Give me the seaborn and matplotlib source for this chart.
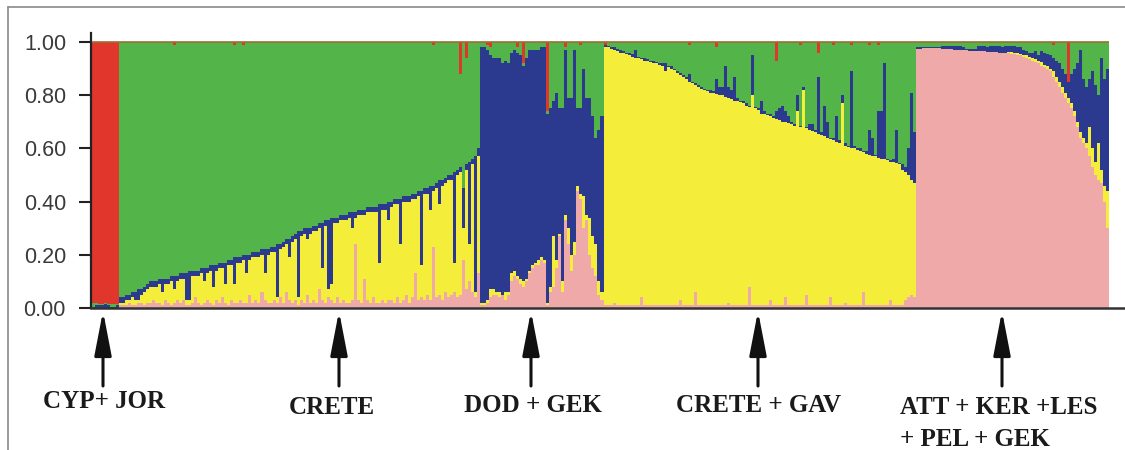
import numpy as np
import pandas as pd
import matplotlib
matplotlib.use("Agg")
import matplotlib.pyplot as plt
import seaborn as sns

# ---------------- data (per individual) ----------------
# cumulative boundaries from bottom: pink | yellow | blue | green | red(top)
# *_pink = pink share, *_yellow_top / *_blue_top = cumulative tops, *_red = red share at top

cyp_pink = [0.0, 0.0, 0.0, 0.0, 0.0, 0.0, 0.0, 0.0, 0.0]
cyp_yellow_top = [0.0, 0.0, 0.0, 0.0, 0.0, 0.0, 0.0, 0.0, 0.0]
cyp_blue_top = [0.005, 0.01, 0.01, 0.01, 0.015, 0.01, 0.005, 0.005, 0.01]
cyp_red = [0.98, 0.98, 0.985, 0.985, 0.98, 0.985, 0.985, 0.985, 0.985]

crete_blue_top = [
    0.04, 0.04, 0.05, 0.05, 0.06, 0.06, 0.07, 0.07, 0.08, 0.09,
    0.10, 0.10, 0.10, 0.11, 0.11, 0.11, 0.11, 0.12, 0.12, 0.12,
    0.13, 0.13, 0.13, 0.14, 0.14, 0.14, 0.14, 0.15, 0.15, 0.15,
    0.16, 0.16, 0.16, 0.17, 0.17, 0.17, 0.18, 0.18, 0.19, 0.19,
    0.19, 0.20, 0.20, 0.20, 0.21, 0.21, 0.21, 0.22, 0.22, 0.22,
    0.23, 0.23, 0.24, 0.24, 0.25, 0.26, 0.26, 0.27, 0.28, 0.29,
    0.29, 0.30, 0.30, 0.30, 0.31, 0.31, 0.32, 0.32, 0.33, 0.33,
    0.34, 0.34, 0.34, 0.35, 0.35, 0.35, 0.36, 0.36, 0.36, 0.37,
    0.37, 0.37, 0.38, 0.38, 0.38, 0.38, 0.39, 0.39, 0.39, 0.40,
    0.40, 0.41, 0.41, 0.41, 0.42, 0.42, 0.42, 0.43, 0.43, 0.44,
    0.44, 0.45, 0.45, 0.46, 0.46, 0.47, 0.48, 0.48, 0.49, 0.50,
    0.50, 0.51, 0.52, 0.53, 0.45, 0.54, 0.55, 0.56, 0.57, 0.60]
crete_yellow_top = [
    0.02, 0.02, 0.03, 0.03, 0.04, 0.03, 0.03, 0.05, 0.06, 0.07,
    0.08, 0.08, 0.08, 0.09, 0.06, 0.09, 0.09, 0.10, 0.07, 0.10,
    0.11, 0.11, 0.03, 0.03, 0.12, 0.12, 0.12, 0.13, 0.10, 0.13,
    0.14, 0.08, 0.14, 0.15, 0.15, 0.09, 0.16, 0.16, 0.09, 0.17,
    0.17, 0.18, 0.13, 0.18, 0.19, 0.19, 0.19, 0.20, 0.13, 0.20,
    0.21, 0.21, 0.04, 0.22, 0.23, 0.24, 0.19, 0.25, 0.26, 0.04,
    0.27, 0.28, 0.26, 0.28, 0.29, 0.29, 0.30, 0.15, 0.31, 0.07,
    0.09, 0.32, 0.32, 0.33, 0.33, 0.33, 0.34, 0.30, 0.34, 0.35,
    0.35, 0.35, 0.36, 0.36, 0.36, 0.36, 0.17, 0.37, 0.37, 0.33,
    0.38, 0.39, 0.39, 0.24, 0.40, 0.40, 0.40, 0.41, 0.41, 0.42,
    0.16, 0.43, 0.43, 0.37, 0.44, 0.45, 0.39, 0.46, 0.47, 0.48,
    0.48, 0.17, 0.50, 0.51, 0.30, 0.52, 0.24, 0.54, 0.06, 0.57]
crete_pink = [
    0.01, 0.01, 0.01, 0.02, 0.01, 0.01, 0.02, 0.02, 0.01, 0.02,
    0.02, 0.03, 0.02, 0.02, 0.01, 0.03, 0.02, 0.01, 0.02, 0.03,
    0.02, 0.03, 0.01, 0.01, 0.02, 0.04, 0.02, 0.01, 0.02, 0.03,
    0.02, 0.01, 0.03, 0.02, 0.04, 0.02, 0.01, 0.03, 0.02, 0.02,
    0.03, 0.02, 0.02, 0.05, 0.02, 0.03, 0.02, 0.06, 0.03, 0.02,
    0.02, 0.03, 0.02, 0.04, 0.02, 0.06, 0.03, 0.02, 0.03, 0.01,
    0.03, 0.02, 0.05, 0.02, 0.03, 0.02, 0.07, 0.03, 0.02, 0.04,
    0.03, 0.02, 0.04, 0.02, 0.03, 0.02, 0.02, 0.03, 0.24, 0.03,
    0.02, 0.11, 0.03, 0.02, 0.04, 0.02, 0.02, 0.03, 0.02, 0.03,
    0.03, 0.02, 0.04, 0.02, 0.03, 0.05, 0.02, 0.04, 0.13, 0.03,
    0.04, 0.03, 0.05, 0.03, 0.23, 0.04, 0.05, 0.03, 0.06, 0.04,
    0.05, 0.06, 0.04, 0.05, 0.18, 0.07, 0.10, 0.06, 0.04, 0.13]
crete_red = [
    0, 0, 0, 0, 0, 0, 0, 0, 0, 0,
    0, 0, 0, 0, 0, 0, 0, 0, 0.01, 0,
    0, 0, 0, 0, 0, 0, 0, 0, 0, 0,
    0, 0, 0, 0, 0, 0, 0, 0, 0.01, 0,
    0, 0.01, 0, 0, 0, 0, 0, 0, 0, 0,
    0, 0, 0, 0, 0, 0, 0, 0, 0, 0,
    0, 0, 0, 0, 0, 0, 0, 0, 0, 0,
    0, 0, 0, 0, 0, 0, 0, 0, 0, 0,
    0, 0, 0, 0, 0, 0, 0, 0, 0, 0,
    0, 0, 0, 0, 0, 0, 0, 0, 0, 0,
    0, 0, 0, 0, 0.01, 0, 0, 0, 0, 0,
    0, 0, 0, 0.12, 0, 0.06, 0, 0, 0, 0]

dod_blue_top = [
    0.98, 0.98, 0.97, 0.95, 0.94, 0.94, 0.94, 0.92, 0.93, 0.92,
    0.96, 0.97, 0.96, 0.95, 0.91, 0.94, 0.97, 0.97, 0.97, 0.97,
    0.98, 0.98, 0.73, 0.75, 0.78, 0.81, 0.75, 0.75, 0.97, 0.79,
    0.79, 0.97, 0.75, 0.75, 0.90, 0.79, 0.79, 0.72, 0.64, 0.67, 0.72]
dod_yellow_top = [
    0.02, 0.02, 0.03, 0.07, 0.07, 0.06, 0.06, 0.05, 0.06, 0.06,
    0.13, 0.14, 0.12, 0.11, 0.10, 0.11, 0.14, 0.16, 0.17, 0.18,
    0.19, 0.18, 0.02, 0.08, 0.27, 0.18, 0.28, 0.10, 0.35, 0.30,
    0.20, 0.25, 0.46, 0.43, 0.42, 0.35, 0.34, 0.27, 0.24, 0.10, 0.06]
dod_pink = [
    0.01, 0.01, 0.02, 0.04, 0.05, 0.05, 0.04, 0.05, 0.03, 0.05,
    0.10, 0.12, 0.11, 0.09, 0.08, 0.10, 0.13, 0.15, 0.16, 0.16,
    0.18, 0.17, 0.01, 0.06, 0.08, 0.15, 0.27, 0.06, 0.33, 0.24,
    0.14, 0.20, 0.44, 0.41, 0.30, 0.33, 0.20, 0.15, 0.12, 0.05, 0.03]
dod_red = [
    0, 0, 0.01, 0.02, 0, 0, 0, 0, 0, 0,
    0, 0, 0.02, 0, 0.08, 0, 0, 0, 0, 0,
    0, 0, 0.26, 0, 0, 0, 0, 0, 0.02, 0,
    0, 0, 0, 0.01, 0, 0, 0, 0, 0, 0, 0]

cgav_yellow_top = [
    0.98, 0.98, 0.975, 0.97, 0.965, 0.96, 0.96, 0.955, 0.95, 0.945,
    0.94, 0.94, 0.935, 0.93, 0.93, 0.925, 0.92, 0.92, 0.915, 0.91,
    0.89, 0.905, 0.90, 0.895, 0.885, 0.875, 0.87, 0.86, 0.85, 0.845,
    0.84, 0.83, 0.825, 0.82, 0.815, 0.81, 0.81, 0.805, 0.80, 0.80,
    0.795, 0.79, 0.785, 0.78, 0.78, 0.775, 0.77, 0.76, 0.755, 0.80,
    0.75, 0.745, 0.73, 0.73, 0.725, 0.72, 0.715, 0.71, 0.705, 0.70,
    0.70, 0.695, 0.69, 0.685, 0.74, 0.68, 0.82, 0.675, 0.67, 0.665,
    0.66, 0.655, 0.65, 0.645, 0.64, 0.635, 0.63, 0.625, 0.62, 0.77,
    0.61, 0.605, 0.60, 0.60, 0.595, 0.59, 0.585, 0.58, 0.575, 0.57,
    0.57, 0.565, 0.56, 0.56, 0.555, 0.55, 0.55, 0.545, 0.54, 0.52,
    0.51, 0.50, 0.48, 0.47]
cgav_blue_top = [
    0.99, 0.985, 0.98, 0.98, 0.975, 0.97, 0.965, 0.96, 0.96, 0.955,
    0.97, 0.945, 0.94, 0.94, 0.935, 0.93, 0.93, 0.925, 0.92, 0.92,
    0.92, 0.91, 0.91, 0.90, 0.89, 0.885, 0.875, 0.87, 0.88, 0.85,
    0.845, 0.84, 0.83, 0.825, 0.82, 0.82, 0.815, 0.86, 0.83, 0.83,
    0.91, 0.83, 0.82, 0.87, 0.79, 0.78, 0.78, 0.77, 0.76, 0.95,
    0.755, 0.75, 0.78, 0.74, 0.73, 0.73, 0.72, 0.74, 0.75, 0.76,
    0.74, 0.72, 0.70, 0.69, 0.80, 0.685, 0.83, 0.68, 0.69, 0.69,
    0.67, 0.87, 0.66, 0.76, 0.70, 0.64, 0.64, 0.72, 0.63, 0.80,
    0.62, 0.61, 0.89, 0.61, 0.60, 0.60, 0.59, 0.59, 0.67, 0.64,
    0.575, 0.74, 0.74, 0.92, 0.56, 0.555, 0.56, 0.67, 0.545, 0.54,
    0.53, 0.60, 0.81, 0.66]
cgav_pink = [
    0.01, 0.01, 0.01, 0.02, 0.01, 0.01, 0.01, 0.01, 0.01, 0.01,
    0.01, 0.01, 0.04, 0.01, 0.01, 0.01, 0.01, 0.01, 0.01, 0.01,
    0.01, 0.01, 0.01, 0.01, 0.01, 0.03, 0.01, 0.01, 0.01, 0.01,
    0.06, 0.01, 0.01, 0.01, 0.01, 0.01, 0.01, 0.01, 0.01, 0.01,
    0.01, 0.02, 0.01, 0.01, 0.01, 0.01, 0.01, 0.01, 0.08, 0.01,
    0.01, 0.01, 0.01, 0.01, 0.01, 0.03, 0.01, 0.01, 0.01, 0.01,
    0.04, 0.01, 0.01, 0.01, 0.01, 0.01, 0.01, 0.05, 0.01, 0.01,
    0.01, 0.01, 0.01, 0.01, 0.01, 0.04, 0.01, 0.01, 0.01, 0.01,
    0.02, 0.01, 0.01, 0.01, 0.01, 0.01, 0.06, 0.01, 0.01, 0.01,
    0.01, 0.01, 0.01, 0.01, 0.01, 0.03, 0.01, 0.01, 0.01, 0.01,
    0.03, 0.04, 0.05, 0.04]
cgav_red = [
    0.01, 0, 0, 0, 0, 0, 0, 0, 0, 0,
    0, 0, 0, 0, 0, 0, 0, 0, 0, 0,
    0, 0, 0, 0, 0, 0, 0, 0, 0.01, 0,
    0, 0, 0, 0, 0, 0, 0, 0.02, 0, 0,
    0, 0, 0, 0, 0, 0, 0, 0, 0, 0,
    0, 0, 0, 0, 0, 0, 0, 0.07, 0, 0,
    0, 0, 0, 0, 0, 0.01, 0, 0, 0, 0,
    0, 0.04, 0, 0, 0, 0, 0.01, 0, 0, 0,
    0, 0, 0.01, 0, 0, 0, 0, 0, 0.01, 0,
    0, 0.01, 0, 0, 0, 0, 0, 0, 0, 0,
    0, 0, 0, 0]

att_pink = [
    0.975, 0.975, 0.978, 0.978, 0.977, 0.977, 0.976, 0.976, 0.975, 0.975,
    0.972, 0.972, 0.971, 0.970, 0.970, 0.970, 0.969, 0.968, 0.968, 0.967,
    0.966, 0.966, 0.965, 0.964, 0.963, 0.963, 0.962, 0.960, 0.960, 0.958,
    0.957, 0.956, 0.955, 0.953, 0.950,
    0.945, 0.94, 0.935, 0.93, 0.925, 0.92, 0.91, 0.905, 0.90,
    0.89, 0.87, 0.85, 0.83, 0.81, 0.79,
    0.77, 0.75, 0.72, 0.68, 0.64, 0.62, 0.60, 0.57, 0.53, 0.50, 0.48, 0.47, 0.40, 0.30]
att_yellow_top = [
    0.975, 0.975, 0.978, 0.978, 0.977, 0.977, 0.976, 0.976, 0.975, 0.975,
    0.972, 0.972, 0.971, 0.970, 0.970, 0.970, 0.969, 0.968, 0.968, 0.967,
    0.966, 0.966, 0.965, 0.964, 0.963, 0.963, 0.962, 0.960, 0.960, 0.958,
    0.962, 0.961, 0.960, 0.958, 0.955,
    0.95, 0.95, 0.945, 0.94, 0.935, 0.93, 0.925, 0.915, 0.91,
    0.90, 0.89, 0.87, 0.85, 0.83, 0.81,
    0.79, 0.77, 0.74, 0.70, 0.66, 0.64, 0.62, 0.68, 0.60, 0.55, 0.62, 0.52, 0.46, 0.44]
att_blue_top = [
    0.98, 0.98, 0.982, 0.983, 0.982, 0.98, 0.98, 0.981, 0.985, 0.985,
    0.985, 0.985, 0.985, 0.985, 0.985, 0.98, 0.975, 0.975, 0.975, 0.975,
    0.985, 0.985, 0.985, 0.98, 0.985, 0.985, 0.985, 0.985, 0.98, 0.985,
    0.985, 0.985, 0.985, 0.98, 0.98,
    0.97, 0.965, 0.96, 0.96, 0.965, 0.95, 0.965, 0.96, 0.955,
    0.95, 0.94, 0.93, 0.92, 0.90, 0.88,
    0.85, 0.88, 0.90, 0.92, 0.97, 0.86, 0.83, 0.86, 0.89, 0.84, 0.80, 0.94, 0.86, 0.90]
att_red = [
    0, 0, 0, 0, 0, 0, 0, 0, 0, 0,
    0, 0, 0, 0, 0, 0, 0, 0, 0, 0,
    0, 0, 0, 0, 0, 0, 0, 0, 0, 0,
    0, 0, 0, 0, 0,
    0, 0, 0, 0, 0, 0, 0, 0, 0,
    0, 0.01, 0, 0, 0, 0,
    0.15, 0, 0, 0, 0, 0, 0, 0, 0, 0, 0, 0, 0, 0]

group_labels = ["CYP+ JOR", "CRETE", "DOD + GEK", "CRETE + GAV", "ATT + KER +LES", "+ PEL + GEK"]
y_ticks = [0.0, 0.2, 0.4, 0.6, 0.8, 1.0]

cluster_colors = {"pink": "#EFA9A9", "yellow": "#F4EE3A", "blue": "#2B3A8F",
                  "green": "#53B549", "red": "#E0362C"}

# ---------------- assemble ----------------
pink = cyp_pink + crete_pink + dod_pink + cgav_pink + att_pink
yellow_top = cyp_yellow_top + crete_yellow_top + dod_yellow_top + cgav_yellow_top + att_yellow_top
blue_top = cyp_blue_top + crete_blue_top + dod_blue_top + cgav_blue_top + att_blue_top
red = cyp_red + crete_red + dod_red + cgav_red + att_red
N = len(pink)

df = pd.DataFrame({
    "ind": np.arange(N),
    "pink": pink,
    "yellow_top": yellow_top,
    "blue_top": blue_top,
    "green_top": 1.0 - np.array(red, dtype=float),
    "red_top": np.ones(N),
})

sns.set_style("white")
plt.rcParams["font.family"] = ["Liberation Sans", "DejaVu Sans"]

W, H = 1125, 450
fig = plt.figure(figsize=(W / 100, H / 100), dpi=100)
ax_left, ax_right, ax_bottom, ax_top = 91, 1125, 308, 33
ax = fig.add_axes([ax_left / W, 1 - ax_bottom / H, (ax_right - ax_left) / W, (ax_bottom - ax_top) / H])

layers = [("red_top", "red"), ("green_top", "green"), ("blue_top", "blue"),
          ("yellow_top", "yellow"), ("pink", "pink")]
for col, cname in layers:
    sns.barplot(data=df, x="ind", y=col, color=cluster_colors[cname], saturation=1,
                width=1.0, errorbar=None, linewidth=0, edgecolor="none",
                antialiased=False, ax=ax)

# bars span pixels 92..1109 inside axes spanning 91..1125
s = (1109 - 92) / N
a = -0.5 - (92 - ax_left) / s
b = a + (ax_right - ax_left) / s
ax.set_xlim(a, b)
ax.set_ylim(0, (ax_bottom - ax_top) / (ax_bottom - 42))
ax.hlines(1.0, -0.5, N - 0.5, colors="#9C6E34", lw=1.2, zorder=5)

ax.set_xticks([])
ax.set_xlabel("")
ax.set_ylabel("")
ax.set_yticks(y_ticks)
ax.set_yticklabels([f"{v:.2f}" for v in y_ticks])
ax.tick_params(axis="y", length=8.5, width=1.5, pad=9.5, colors="#222222",
               labelcolor="#3a3a3a", labelsize=15.5, left=True)
for sp in ["top", "right"]:
    ax.spines[sp].set_visible(False)
ax.spines["left"].set_color("#222222")
ax.spines["left"].set_linewidth(1.6)
ax.spines["bottom"].set_color("#333333")
ax.spines["bottom"].set_linewidth(1.8)
ax.spines["bottom"].set_zorder(6)

# outer frame (top + left)
fig.add_artist(plt.Line2D([8 / W, 8 / W], [0, 1 - 7 / H], transform=fig.transFigure,
                          color="#8a8a8a", lw=1.2))
fig.add_artist(plt.Line2D([8 / W, 1], [1 - 7 / H, 1 - 7 / H], transform=fig.transFigure,
                          color="#8a8a8a", lw=1.2))

# arrows and group labels
arrow_x = [103, 339, 531, 758, 1002]
for x in arrow_x:
    fig.add_artist(matplotlib.patches.FancyArrowPatch(
        (x / W, 1 - 386 / H), (x / W, 1 - 311 / H), transform=fig.transFigure,
        arrowstyle="-|>,head_length=1.35,head_width=0.26", mutation_scale=20,
        color="#111111", lw=2.2, shrinkA=0, shrinkB=0))

label_pos = [(104, 402, "center"), (332, 407, "center"), (533, 406, "center"),
             (759, 406, "center"), (900, 407, "left"), (900, 439, "left")]
for (x, y, ha), txt in zip(label_pos, group_labels):
    fig.text(x / W, 1 - y / H, txt, ha=ha, va="center", fontsize=18, fontweight="bold",
             family=["Liberation Serif", "DejaVu Serif"], color="#1a1a1a")

fig.savefig("out.png", dpi=100)
